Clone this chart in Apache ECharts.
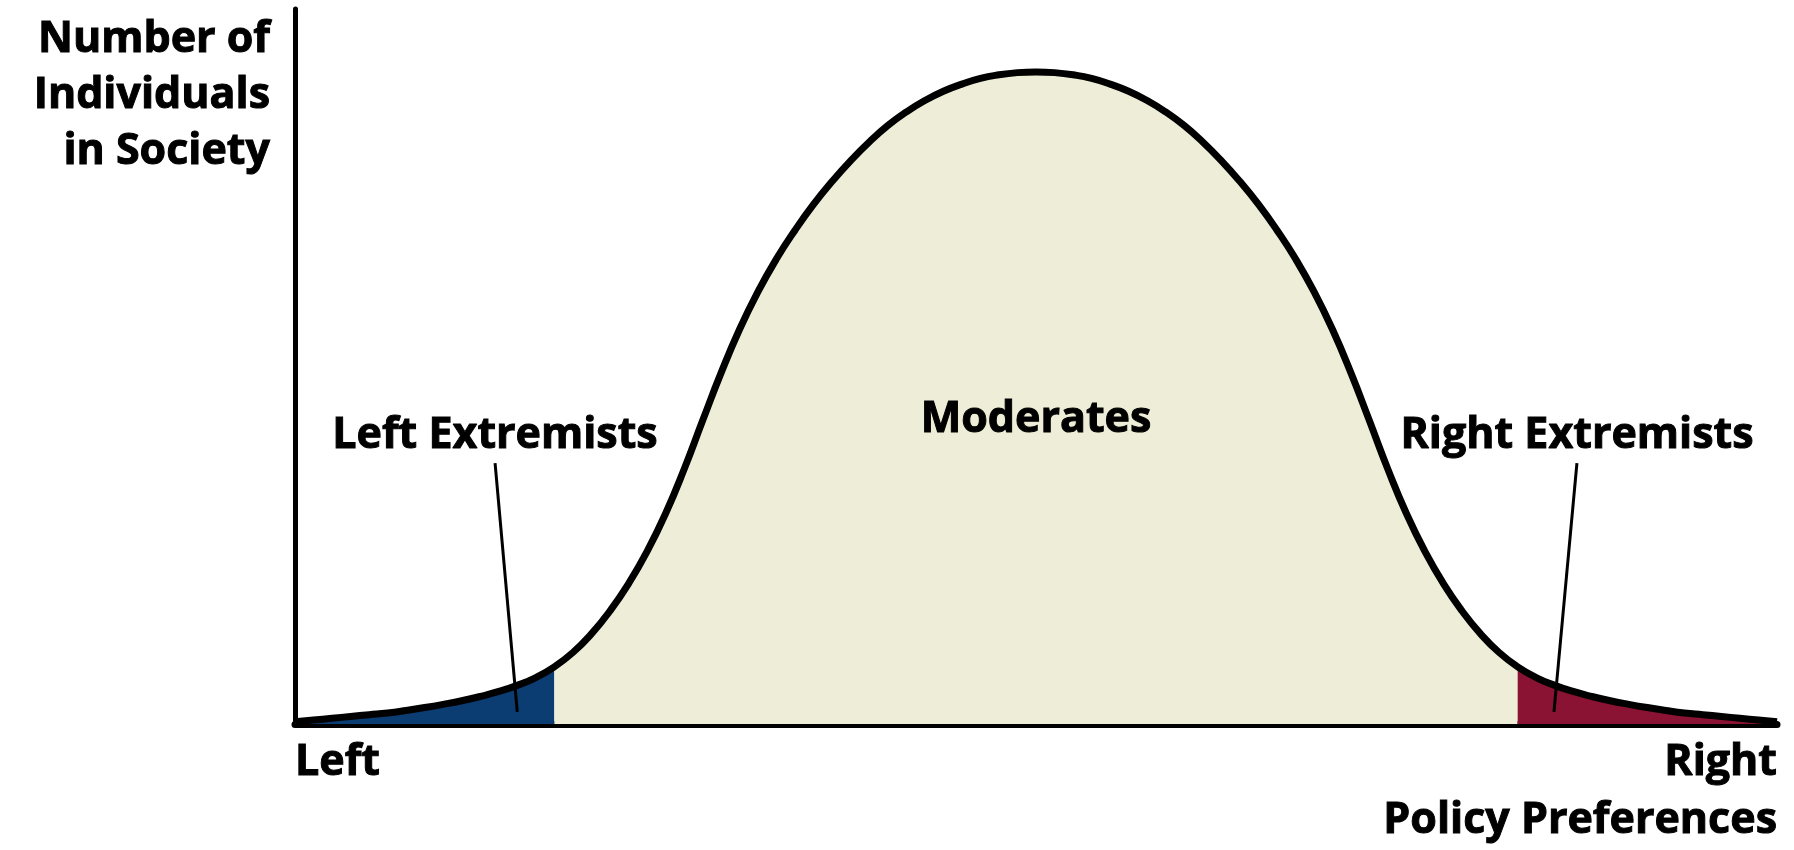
<!DOCTYPE html>
<html>
<head>
<meta charset="utf-8">
<script src="https://cdn.jsdelivr.net/npm/echarts@6/dist/echarts.min.js"></script>
<style>
  html, body { margin: 0; padding: 0; background: #fff; }
  #chart { width: 1794px; height: 850px; }
</style>
</head>
<body>
<div id="chart"></div>
<script>
// policy position (0 = far left, 100 = far right)
const positions = [
  0, 1.25, 2.5, 3.75, 5, 6.25, 7.5, 8.75, 10, 11.25, 12.5, 13.75, 15, 16.25, 17.5, 18.75, 20, 21.25, 22.5, 23.75,
  25, 26.25, 27.5, 28.75, 30, 31.25, 32.5, 33.75, 35, 36.25, 37.5, 38.75, 40, 41.25, 42.5, 43.75, 45, 46.25, 47.5, 48.75,
  50,
  51.25, 52.5, 53.75, 55, 56.25, 57.5, 58.75, 60, 61.25, 62.5, 63.75, 65, 66.25, 67.5, 68.75, 70, 71.25, 72.5, 73.75,
  75, 76.25, 77.5, 78.75, 80, 81.25, 82.5, 83.75, 85, 86.25, 87.5, 88.75, 90, 91.25, 92.5, 93.75, 95, 96.25, 97.5, 98.75, 100
];
// number of individuals at each position
const individuals = [
  0.3, 0.55, 0.8, 1.05, 1.3, 1.55, 1.9, 2.3, 2.75, 3.25, 3.85, 4.55, 5.4, 6.5, 8.0, 10.0, 12.6, 15.8, 19.6, 24.1,
  29.4, 35.6, 42.4, 49.1, 55.2, 60.5, 65.1, 69.1, 72.7, 75.9, 78.8, 81.4, 83.7, 85.6, 87.2, 88.5, 89.5, 90.3, 90.8, 91.1,
  91.2,
  91.1, 90.8, 90.3, 89.5, 88.5, 87.2, 85.6, 83.7, 81.4, 78.8, 75.9, 72.7, 69.1, 65.1, 60.5, 55.2, 49.1, 42.4, 35.6,
  29.4, 24.1, 19.6, 15.8, 12.6, 10.0, 8.0, 6.5, 5.4, 4.55, 3.85, 3.25, 2.75, 2.3, 1.9, 1.55, 1.3, 1.05, 0.8, 0.55, 0.3
];
const leftCut = 17.5;
const rightCut = 82.5;
const xTickLabels = ['Left', 'Right'];
const groupNames = ['Left Extremists', 'Moderates', 'Right Extremists'];
const groupColors = ['#0b3c72', '#ededd8', '#8a1232'];

const curve = positions.map((p, i) => [p, individuals[i]]);
const leftPart = curve.filter(d => d[0] <= leftCut);
const midPart = curve.filter(d => d[0] >= leftCut && d[0] <= rightCut);
const rightPart = curve.filter(d => d[0] >= rightCut);

const FONT = '"Open Sans", "DejaVu Sans", sans-serif';
const labelFont = 'bold 43px ' + FONT;

const chart = echarts.init(document.getElementById('chart'));

const fill = (name, data, color) => ({
  name: name,
  type: 'line',
  data: data,
  smooth: true,
  showSymbol: false,
  silent: true,
  lineStyle: { width: 0 },
  areaStyle: { color: color, opacity: 1 },
  z: 2
});

const textEl = (text, x, y, align, extra) => ({
  type: 'text', x: x, y: y, z: 10,
  style: Object.assign({
    text: text, font: labelFont, fill: '#000',
    stroke: '#000', lineWidth: 1,
    align: align, verticalAlign: 'middle'
  }, extra || {})
});

const option = {
  animation: false,
  grid: { left: 295, right: 17, top: 9, bottom: 126 },
  xAxis: {
    type: 'value',
    min: 0,
    max: 100,
    interval: 100,
    axisLine: { show: true, lineStyle: { color: '#000', width: 7 } },
    axisTick: { show: false },
    splitLine: { show: false },
    axisLabel: {
      formatter: v => (v === 0 ? xTickLabels[0] : xTickLabels[1]),
      color: '#000',
      fontFamily: FONT,
      fontWeight: 'bold',
      fontSize: 43,
      textBorderColor: '#000',
      textBorderWidth: 1,
      margin: 17,
      alignMinLabel: 'left',
      alignMaxLabel: 'right'
    }
  },
  yAxis: {
    type: 'value',
    min: 0,
    max: 100,
    axisLine: { show: true, lineStyle: { color: '#000', width: 5 } },
    axisTick: { show: false },
    axisLabel: { show: false },
    splitLine: { show: false }
  },
  series: [
    fill(groupNames[0], leftPart, groupColors[0]),
    fill(groupNames[1], midPart, groupColors[1]),
    fill(groupNames[2], rightPart, groupColors[2]),
    {
      name: 'outline',
      type: 'line',
      data: curve,
      smooth: true,
      showSymbol: false,
      silent: true,
      lineStyle: { color: '#000', width: 7 },
      z: 3,
      markLine: {
        silent: true,
        symbol: ['none', 'none'],
        label: { show: false },
        lineStyle: { color: '#000', width: 3, type: 'solid' },
        data: [
          [{ coord: [13.5, 36.5] }, { coord: [15.0, 1.7] }],
          [{ coord: [86.5, 36.5] }, { coord: [84.95, 1.7] }]
        ]
      }
    }
  ],
  graphic: [
    textEl('Number of\nIndividuals\nin Society', 270, 12, 'right', { lineHeight: 56, verticalAlign: 'top' }),
    textEl('Policy Preferences', 1777, 821, 'right'),
    textEl(groupNames[0], 495, 436, 'center'),
    textEl(groupNames[1], 1036, 420, 'center'),
    textEl(groupNames[2], 1577, 436, 'center')
  ]
};

chart.setOption(option);
</script>
</body>
</html>
